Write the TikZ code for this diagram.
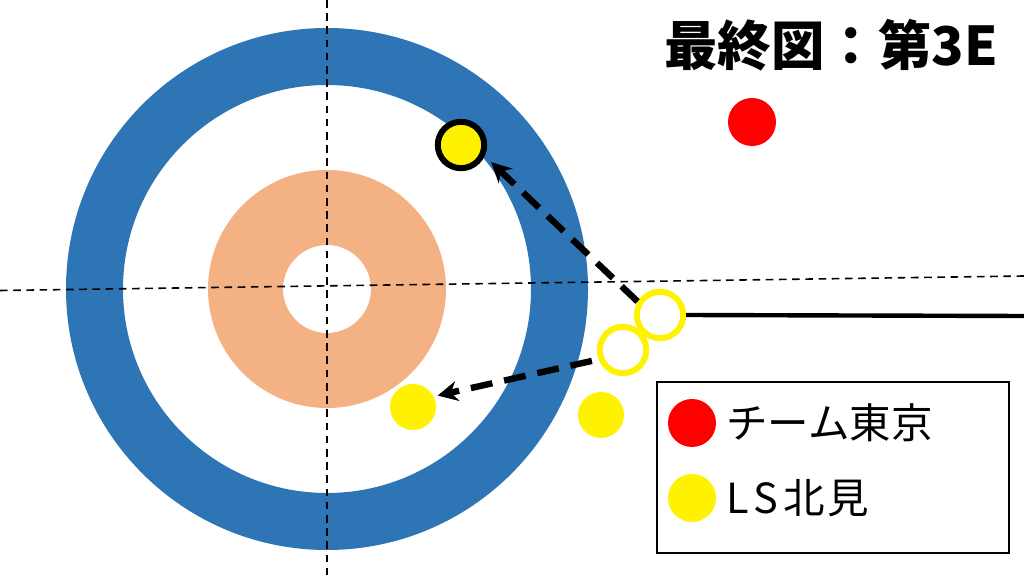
\documentclass[tikz,border=0pt]{standalone}
\usepackage{fontspec}
\setmainfont{Noto Sans CJK JP}
\usetikzlibrary{arrows.meta}
\definecolor{houseblue}{HTML}{2E75B6}
\definecolor{houseorange}{HTML}{F4B183}

\begin{document}
\begin{tikzpicture}[x=0.025cm,y=-0.025cm,
    stone/.style={circle,inner sep=0pt,minimum size=1.15cm},
    ringstone/.style={circle,inner sep=0pt,minimum size=1.16cm,draw=yellow,line width=0.15cm},
    guide/.style={line width=0.04cm,dash pattern=on 0.19cm off 0.14cm},
    shot/.style={line width=0.16cm,dash pattern=on 0.55cm off 0.3cm,-{Stealth[length=0.5cm,width=0.5cm]}},
    label/.style={anchor=west,inner sep=0pt,font=\fontsize{29.5}{30}\selectfont}]
  \useasboundingbox (0,0) rectangle (1024,576);
  \coordinate (tee) at (327,289);
  \fill[houseblue,even odd rule] (tee) circle[radius=261] (tee) circle[radius=204];
  \fill[houseorange,even odd rule] (tee) circle[radius=119] (tee) circle[radius=44];
  \draw[guide] (327,0) -- (327,576);
  \draw[guide] (0,290.5) -- (1024,276);

  \node[font=\bfseries\fontsize{38}{38}\selectfont] (title) at (831,45) {最終図：第3E};

  \node[stone,fill=red,minimum size=1.2cm] (t1) at (752,122) {};
  \node[stone,fill=yellow,draw=black,line width=0.15cm,minimum size=1.16cm] (k1) at (461,145) {};
  \node[ringstone] (k2) at (660,315) {};
  \node[ringstone] (k3) at (623,350) {};
  \node[stone,fill=yellow] (k4) at (413,407) {};
  \node[stone,fill=yellow] (k5) at (601,415) {};

  \coordinate (rinkend) at (1024,316);
  \draw[line width=0.11cm] (k2.east) -- (rinkend);
  \draw[shot,shorten >=0.22cm] (k2.149) -- (k1.-25);
  \draw[shot,shorten <=0.17cm,shorten >=0.1cm] (k3.201) -- (k4.27);

  \node[draw,line width=0.05cm,inner sep=0pt,minimum width=8.8cm,minimum height=4.275cm] (legend) at (833,467.5) {};
  \node[stone,fill=red,minimum size=1.2cm] (lt) at (692,423) {};
  \node[stone,fill=yellow,minimum size=1.2cm] (lk) at (692,498) {};
  \node[label] (ltext) at (726,423) {チーム東京};
  \node[label] (lktext) at (726,498) {L\hspace{0.12em}S\hspace{0.12em}北\hspace{0.05em}見};
\end{tikzpicture}
\end{document}
